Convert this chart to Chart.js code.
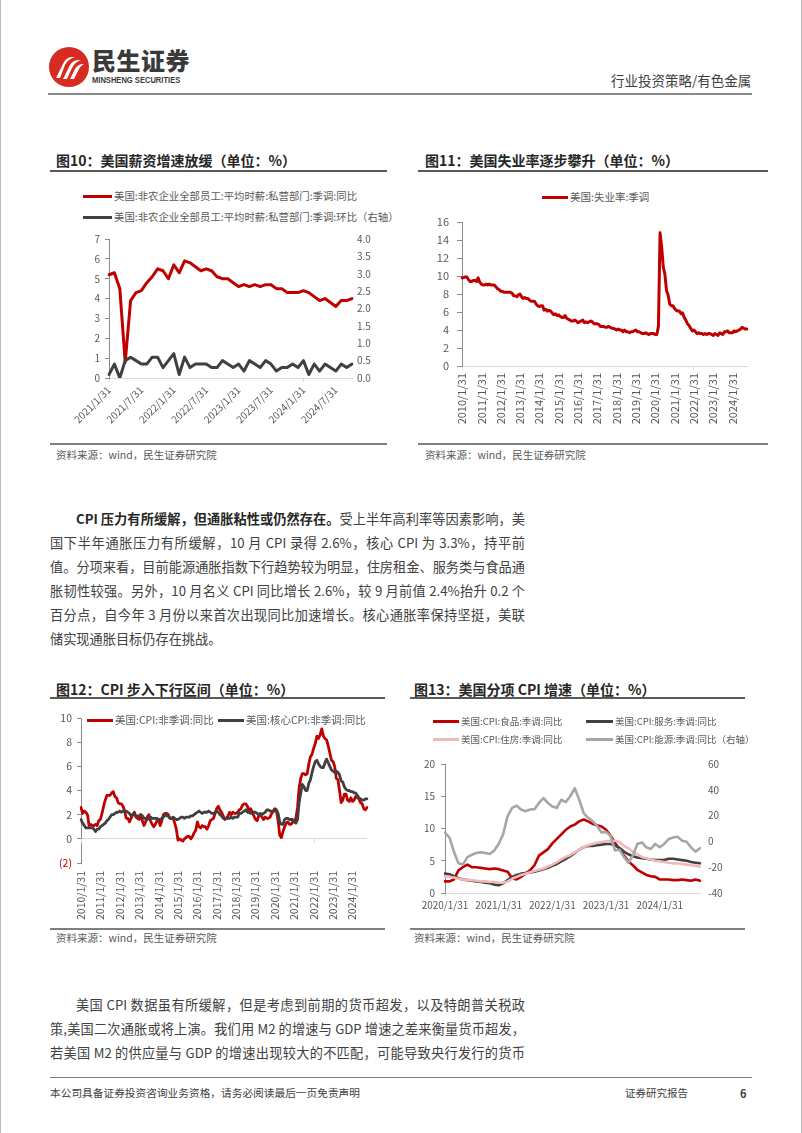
<!DOCTYPE html>
<html lang="zh-CN"><head><meta charset="utf-8">
<script src="https://cdn.jsdelivr.net/npm/chart.js@4.4.1/dist/chart.umd.min.js"></script>
<style>
*{box-sizing:border-box}
html,body{margin:0;padding:0;background:#fff}
body{width:802px;height:1133px;position:relative;overflow:hidden;font-family:"Noto Sans CJK SC","Noto Sans",sans-serif;color:#404040}
.a{position:absolute;white-space:nowrap}
.title{font-size:14px;font-weight:700;color:#262626;line-height:16px}
.rule{position:absolute;height:2px;background:#595959}
.src{font-size:10.5px;color:#595959;line-height:12px}
.lg{position:absolute;font-size:10px;color:#595959;line-height:12px;display:flex;align-items:center;white-space:nowrap}
.lg i{display:inline-block;height:3px;margin-right:2px}
.p{position:absolute;font-size:13.2px;line-height:24px;height:24px;color:#404040;white-space:nowrap;text-align:justify;text-align-last:justify}
canvas{position:absolute}
</style></head>
<body>
<div class="a" style="left:0;top:0;width:1px;height:1133px;background:#bbb"></div>
<div class="a" style="left:801px;top:0;width:1px;height:1133px;background:#bbb"></div>

<!-- header -->
<svg class="a" style="left:48px;top:46px" width="42" height="42" viewBox="0 0 42 42">
  <circle cx="21" cy="21" r="20" fill="#D52B21"/>
  <path d="M8 32 L16 16 Q19 11 25 11 L27 11 Q20 13 17 19 L12 32 Z" fill="#fff"/>
  <path d="M15 33 L22 19 Q25 14 31 14 L33 14 Q27 16 24 22 L19 33 Z" fill="#fff"/>
  <path d="M22 33 L27 23 Q30 18 35 18 L36 18 Q32 20 30 25 L26 33 Z" fill="#fff"/>
</svg>
<div class="a" style="left:92px;top:46px;font-size:24px;font-weight:900;color:#3a3a3a;line-height:28px;letter-spacing:0.5px">民生证券</div>
<div class="a" style="left:92px;top:75px;font-family:'Liberation Sans',sans-serif;font-size:8.6px;font-weight:700;color:#3a3a3a;line-height:10px;transform:scaleX(0.88);transform-origin:left top">MINSHENG SECURITIES</div>
<div class="a" style="left:611px;top:71px;font-size:13.5px;color:#404040;line-height:18px">行业投资策略/有色金属</div>
<div class="a" style="left:48px;top:93px;width:704px;height:2px;background:#8c8c8c"></div>

<!-- titles row 1 -->
<div class="a title" style="left:56px;top:152px">图10：美国薪资增速放缓（单位：%）</div>
<div class="rule" style="left:50px;top:170px;width:337px"></div>
<div class="a title" style="left:425px;top:152px">图11：美国失业率逐步攀升（单位：%）</div>
<div class="rule" style="left:418px;top:170px;width:350px"></div>

<!-- legends row 1 -->
<div class="lg" style="left:83px;top:190px;font-size:10.4px"><i style="width:29px;background:#C00000"></i><span>美国:非农企业全部员工:平均时薪:私营部门:季调:同比</span></div>
<div class="lg" style="left:83px;top:211px;font-size:10.4px"><i style="width:29px;background:#404040"></i><span>美国:非农企业全部员工:平均时薪:私营部门:季调:环比（右轴）</span></div>
<div class="lg" style="left:542px;top:191px;font-size:10.5px"><i style="width:26px;background:#C00000"></i><span>美国:失业率:季调</span></div>

<canvas id="c10" width="330" height="210" style="left:55px;top:225px"></canvas>
<canvas id="c11" width="355" height="230" style="left:415px;top:205px"></canvas>

<div class="a" style="left:50px;top:443px;width:337px;height:2px;background:#7f7f7f"></div>
<div class="a src" style="left:56px;top:449px">资料来源：wind，民生证券研究院</div>
<div class="a" style="left:418px;top:443px;width:350px;height:2px;background:#7f7f7f"></div>
<div class="a src" style="left:425px;top:449px">资料来源：wind，民生证券研究院</div>

<!-- paragraph 1 -->
<div class="p" style="left:76px;top:507px;width:449px"><b style="color:#262626">CPI 压力有所缓解，但通胀粘性或仍然存在。</b>受上半年高利率等因素影响，美</div>
<div class="p" style="left:50px;top:531px;width:475px">国下半年通胀压力有所缓解，10 月 CPI 录得 2.6%，核心 CPI 为 3.3%，持平前</div>
<div class="p" style="left:50px;top:555px;width:475px">值。分项来看，目前能源通胀指数下行趋势较为明显，住房租金、服务类与食品通</div>
<div class="p" style="left:50px;top:579px;width:475px">胀韧性较强。另外，10 月名义 CPI 同比增长 2.6%，较 9 月前值 2.4%抬升 0.2 个</div>
<div class="p" style="left:50px;top:603px;width:475px">百分点，自今年 3 月份以来首次出现同比加速增长。核心通胀率保持坚挺，美联</div>
<div class="p" style="left:50px;top:627px;text-align:left;text-align-last:left">储实现通胀目标仍存在挑战。</div>

<!-- titles row 2 -->
<div class="a title" style="left:56px;top:681px">图12：CPI 步入下行区间（单位：%）</div>
<div class="rule" style="left:50px;top:697px;width:335px"></div>
<div class="a title" style="left:414px;top:681px">图13：美国分项 CPI 增速（单位：%）</div>
<div class="rule" style="left:410px;top:697px;width:335px"></div>

<canvas id="c12" width="340" height="220" style="left:40px;top:705px"></canvas>
<canvas id="c13" width="345" height="170" style="left:405px;top:750px"></canvas>

<div class="lg" style="left:87px;top:714px;font-size:10.5px"><i style="width:26px;background:#C00000"></i><span>美国:CPI:非季调:同比</span></div>
<div class="lg" style="left:218px;top:714px;font-size:10.5px"><i style="width:26px;background:#404040"></i><span>美国:核心CPI:非季调:同比</span></div>

<div class="lg" style="left:433px;top:715px;font-size:9.5px"><i style="width:26px;background:#C00000"></i><span>美国:CPI:食品:季调:同比</span></div>
<div class="lg" style="left:586px;top:715px;font-size:9.5px"><i style="width:27px;background:#404040"></i><span>美国:CPI:服务:季调:同比</span></div>
<div class="lg" style="left:433px;top:733px;font-size:9.5px"><i style="width:26px;background:#F1B9B9"></i><span>美国:CPI:住房:季调:同比</span></div>
<div class="lg" style="left:586px;top:733px;font-size:9.5px"><i style="width:27px;background:#A6A6A6"></i><span>美国:CPI:能源:季调:同比（右轴）</span></div>

<div class="a" style="left:50px;top:928px;width:335px;height:2px;background:#7f7f7f"></div>
<div class="a src" style="left:56px;top:932px">资料来源：wind，民生证券研究院</div>
<div class="a" style="left:410px;top:928px;width:335px;height:2px;background:#7f7f7f"></div>
<div class="a src" style="left:414px;top:932px">资料来源：wind，民生证券研究院</div>

<!-- paragraph 2 -->
<div class="p" style="left:76px;top:993px;width:449px">美国 CPI 数据虽有所缓解，但是考虑到前期的货币超发，以及特朗普关税政</div>
<div class="p" style="left:50px;top:1017px;width:475px">策,美国二次通胀或将上演。我们用 M2 的增速与 GDP 增速之差来衡量货币超发，</div>
<div class="p" style="left:50px;top:1041px;width:475px">若美国 M2 的供应量与 GDP 的增速出现较大的不匹配，可能导致央行发行的货币</div>

<!-- footer -->
<div class="a" style="left:50px;top:1077px;width:702px;height:1px;background:#7f7f7f"></div>
<div class="a" style="left:50px;top:1086px;font-size:10.7px;color:#404040;line-height:14px">本公司具备证券投资咨询业务资格，请务必阅读最后一页免责声明</div>
<div class="a" style="left:625px;top:1086px;font-size:10.5px;color:#404040;line-height:14px">证券研究报告</div>
<div class="a" style="left:740px;top:1086px;font-size:11px;font-weight:700;color:#404040;line-height:14px">6</div>

<script>
// ---------- data ----------
function monthEnds(y0, m0, n){const out=[];for(let i=0;i<n;i++){const y=y0+Math.floor((m0-1+i)/12),m=(m0-1+i)%12+1;out.push(y+'/'+m+'/'+new Date(y,m,0).getDate());}return out;}

// Fig 10 : 2021/1 - 2024/10
const wageLabels = monthEnds(2021,1,46);
const wageYoY = [5.2,5.3,4.5,0.8,3.9,4.3,4.4,4.8,5.1,5.5,5.4,5.0,
  5.7,5.3,5.9,5.8,5.6,5.4,5.5,5.4,5.1,5.0,5.0,4.8,
  4.6,4.7,4.6,4.7,4.6,4.7,4.7,4.5,4.5,4.3,4.3,4.3,
  4.4,4.3,4.1,3.9,4.0,3.8,3.6,3.9,3.9,4.0];
const wageMoM = [0.1,0.4,0.0,0.5,0.6,0.5,0.4,0.4,0.6,0.6,0.3,0.5,
  0.7,0.1,0.6,0.3,0.4,0.4,0.4,0.3,0.3,0.5,0.4,0.3,
  0.4,0.2,0.5,0.4,0.3,0.5,0.4,0.2,0.3,0.3,0.4,0.3,
  0.5,0.1,0.4,0.2,0.4,0.3,0.2,0.4,0.3,0.4];

// Fig 11 / Fig 12 : 2010/1 - 2024/10
const longLabels = monthEnds(2010,1,178);
const unemployment = [
  9.8,9.8,9.9,9.9,9.6,9.4,9.4,9.5,9.5,9.4,9.8,9.3,
  9.1,9.0,9.0,9.1,9.0,9.1,9.0,9.0,9.0,8.8,8.6,8.5,
  8.3,8.3,8.2,8.2,8.2,8.2,8.2,8.1,7.8,7.8,7.7,7.9,
  8.0,7.7,7.5,7.6,7.5,7.5,7.3,7.2,7.2,7.2,6.9,6.7,
  6.6,6.7,6.7,6.2,6.3,6.1,6.2,6.1,5.9,5.7,5.8,5.6,
  5.7,5.5,5.4,5.4,5.6,5.3,5.2,5.1,5.0,5.0,5.1,5.0,
  4.8,4.9,5.0,5.1,4.8,4.9,4.8,4.9,5.0,4.9,4.7,4.7,
  4.7,4.6,4.4,4.4,4.4,4.3,4.3,4.4,4.3,4.2,4.2,4.1,
  4.0,4.1,4.0,4.0,3.8,4.0,3.8,3.8,3.7,3.8,3.8,3.9,
  4.0,3.8,3.8,3.7,3.6,3.6,3.7,3.6,3.5,3.6,3.6,3.6,
  3.5,3.5,4.4,14.8,13.2,11.0,10.2,8.4,7.9,6.9,6.7,6.7,
  6.4,6.2,6.1,6.1,5.8,5.9,5.4,5.1,4.7,4.5,4.2,3.9,
  4.0,3.8,3.6,3.7,3.6,3.6,3.5,3.6,3.5,3.6,3.6,3.5,
  3.4,3.6,3.5,3.4,3.7,3.6,3.5,3.8,3.8,3.9,3.7,3.7,
  3.7,3.9,3.8,3.9,4.0,4.1,4.3,4.2,4.1,4.1];
const cpiYoY = [
  2.6,2.1,2.3,2.2,2.0,1.1,1.2,1.1,1.1,1.2,1.1,1.5,
  1.6,2.1,2.7,3.2,3.6,3.6,3.6,3.8,3.9,3.5,3.4,3.0,
  2.9,2.9,2.7,2.3,1.7,1.7,1.4,1.7,2.0,2.2,1.8,1.7,
  1.6,2.0,1.5,1.1,1.4,1.8,2.0,1.5,1.2,1.0,1.2,1.5,
  1.6,1.1,1.5,2.0,2.1,2.1,2.0,1.7,1.7,1.7,1.3,0.8,
  -0.1,0.0,-0.1,-0.2,0.0,0.1,0.2,0.2,0.0,0.2,0.5,0.7,
  1.4,1.0,0.9,1.1,1.0,1.0,0.8,1.1,1.5,1.6,1.7,2.1,
  2.5,2.7,2.4,2.2,1.9,1.6,1.7,1.9,2.2,2.0,2.2,2.1,
  2.1,2.2,2.4,2.5,2.8,2.9,2.9,2.7,2.3,2.5,2.2,1.9,
  1.6,1.5,1.9,2.0,1.8,1.6,1.8,1.7,1.7,1.8,2.1,2.3,
  2.5,2.3,1.5,0.3,0.1,0.6,1.0,1.3,1.4,1.2,1.2,1.4,
  1.4,1.7,2.6,4.2,5.0,5.4,5.4,5.3,5.4,6.2,6.8,7.0,
  7.5,7.9,8.5,8.3,8.6,9.1,8.5,8.3,8.2,7.7,7.1,6.5,
  6.4,6.0,5.0,4.9,4.0,3.0,3.2,3.7,3.7,3.2,3.1,3.4,
  3.1,3.2,3.5,3.4,3.3,3.0,2.9,2.5,2.4,2.6];
const coreYoY = [
  1.6,1.3,1.1,0.9,0.9,0.9,0.9,0.9,0.8,0.6,0.8,0.8,
  1.0,1.1,1.2,1.3,1.5,1.6,1.8,2.0,2.0,2.1,2.2,2.2,
  2.3,2.2,2.3,2.3,2.3,2.2,2.1,1.9,2.0,2.0,1.9,1.9,
  1.9,2.0,1.9,1.7,1.7,1.6,1.7,1.8,1.7,1.7,1.7,1.7,
  1.6,1.6,1.7,1.8,2.0,1.9,1.9,1.7,1.7,1.8,1.7,1.6,
  1.6,1.7,1.8,1.8,1.7,1.8,1.8,1.8,1.9,1.9,2.0,2.1,
  2.2,2.3,2.2,2.1,2.2,2.2,2.2,2.3,2.2,2.1,2.1,2.2,
  2.3,2.2,2.0,1.9,1.7,1.7,1.7,1.7,1.7,1.8,1.7,1.8,
  1.8,1.8,2.1,2.1,2.2,2.3,2.4,2.2,2.2,2.1,2.2,2.2,
  2.2,2.1,2.0,2.1,2.0,2.1,2.2,2.4,2.4,2.3,2.3,2.3,
  2.3,2.4,2.1,1.4,1.2,1.2,1.6,1.7,1.7,1.6,1.6,1.6,
  1.4,1.3,1.6,3.0,3.8,4.5,4.3,4.0,4.0,4.6,4.9,5.5,
  6.0,6.4,6.5,6.2,6.0,5.9,5.9,6.3,6.6,6.3,6.0,5.7,
  5.6,5.5,5.6,5.5,5.3,4.8,4.7,4.3,4.1,4.0,4.0,3.9,
  3.9,3.8,3.8,3.6,3.4,3.3,3.2,3.2,3.3,3.3];

// Fig 13 : 2020/1 - 2024/10
const subLabels = monthEnds(2020,1,58);
const foodYoY = [1.8,1.8,2.1,3.5,4.0,4.4,4.0,4.0,3.9,3.8,3.7,3.8,
  3.7,3.5,3.3,2.3,2.1,2.5,3.0,3.5,4.3,5.8,6.3,6.8,
  7.7,8.4,9.1,9.8,10.3,10.6,11.1,11.4,11.1,10.7,10.5,10.3,
  9.8,8.9,7.8,6.8,5.8,4.9,4.3,3.6,3.2,2.8,2.6,2.5,
  2.1,2.1,2.1,2.0,2.0,2.1,2.0,1.9,2.1,1.9];
const servicesYoY = [3.0,2.9,2.6,2.3,2.1,2.0,1.9,1.8,1.7,1.6,1.5,1.3,
  1.2,1.5,2.0,2.5,2.8,3.0,3.1,3.2,3.3,3.5,3.7,3.9,
  4.2,4.5,4.9,5.3,5.7,6.2,6.7,7.1,7.3,7.3,7.4,7.5,
  7.6,7.6,7.4,7.0,6.4,6.0,5.7,5.5,5.4,5.3,5.2,5.1,
  5.1,5.1,5.3,5.3,5.2,5.1,5.0,4.8,4.7,4.6];
const housingYoY = [2.6,2.5,2.4,2.2,2.1,2.0,2.0,1.9,1.8,1.8,1.7,1.7,
  1.6,1.6,1.8,2.2,2.5,2.8,3.0,3.2,3.4,3.6,3.8,4.1,
  4.4,4.8,5.2,5.6,5.9,6.3,6.7,7.1,7.4,7.6,7.8,7.9,
  8.0,8.1,8.1,7.9,7.3,6.9,6.4,6.0,5.6,5.4,5.2,5.0,
  4.9,4.8,4.7,4.6,4.6,4.5,4.4,4.3,4.2,4.1];
const energyYoY = [6.9,3.0,-8.0,-17.0,-18.0,-12.2,-10.4,-9.0,-8.4,-9.0,-9.7,-7.0,
  -2.0,5.6,19.6,26.0,27.7,24.7,23.4,24.7,25.0,29.8,33.6,29.8,
  27.0,26.0,32.3,30.5,35.0,41.2,32.3,22.0,18.3,15.8,12.0,6.9,
  7.4,4.3,-7.0,-6.4,-12.2,-16.5,-11.0,-2.0,-0.8,-4.6,-5.9,-2.0,
  -4.6,-2.0,1.8,3.0,3.6,0.5,-0.3,-4.6,-7.9,-5.3];

// ---------- style ----------
const COL = {red:'#C00000', dark:'#404040', pink:'#F1B9B9', gray:'#A6A6A6', tick:'#595959', axis:'#8c8c8c', light:'#d9d9d9', none:'rgba(0,0,0,0)'};
Chart.defaults.font.family = '"Noto Sans CJK SC", "Noto Sans", sans-serif';
Chart.defaults.color = COL.tick;

function base(pad){
  return {responsive:false, animation:false, devicePixelRatio:1, events:[],
    layout:{padding:pad},
    plugins:{legend:{display:false}, tooltip:{enabled:false}},
    elements:{point:{radius:0}, line:{tension:0, borderJoinStyle:'round', borderCapStyle:'round'}}};
}
function xAxis(labels, every, opt){
  return {
    ticks:{autoSkip:false, maxRotation:opt.rot, minRotation:opt.rot, padding:opt.pad, font:{size:opt.size},
      callback:(v,i)=> i%every===0 ? labels[i] : null},
    grid:{drawOnChartArea:false, tickLength:4, color: ctx => (opt.tickCol && ctx.index%every===0) ? opt.tickCol : COL.none},
    border:{display:opt.border, color:COL.light},
    afterFit:s=>{s.height=opt.h;}
  };
}
function yAxis(min,max,step,w,opt){
  return {min:min, max:max,
    ticks:{stepSize:step, padding:opt.pad, font:{size:opt.size}, color:opt.color||COL.tick, callback:opt.cb},
    grid:{drawOnChartArea:!!opt.zero, tickLength:opt.tl||4, color: opt.zero ? (ctx=> ctx.tick && ctx.tick.value===0 ? COL.light : COL.none) : COL.axis, tickColor:COL.axis},
    border:{display:true, color:COL.axis},
    afterFit:s=>{s.width=w;}};
}
function yRight(min,max,step,w,pad,size,cb){
  return {position:'right', min:min, max:max,
    ticks:{stepSize:step, padding:pad, font:{size:size}, callback:cb},
    grid:{display:false, drawTicks:false}, border:{display:false},
    afterFit:s=>{s.width=w;}};
}
function line(data, color, width, axis, order){
  return {data:data, borderColor:color, backgroundColor:color, borderWidth:width, yAxisID:axis, order:order, fill:false};
}

// small tick marks on the zero line (Fig 12), placed by the scales
const zeroTicks = {id:'zeroTicks', beforeDatasetsDraw(chart){
  const x = chart.scales.x, y = chart.scales.y, ctx = chart.ctx;
  const y0 = y.getPixelForValue(0);
  ctx.save(); ctx.strokeStyle = COL.light; ctx.lineWidth = 1;
  for (let i = 0; i < x.ticks.length; i += 12){
    const px = Math.round(x.getPixelForTick(i)) + 0.5;
    ctx.beginPath(); ctx.moveTo(px, y0); ctx.lineTo(px, y0 + 4); ctx.stroke();
  }
  ctx.restore();
}};

// Fig 10
new Chart(document.getElementById('c10'), {type:'line',
  data:{labels:wageLabels, datasets:[
    line(wageYoY, COL.red, 3, 'y', 2),
    line(wageMoM, COL.dark, 3, 'y1', 1)]},
  options:Object.assign(base({top:14,left:0,right:0,bottom:0}), {scales:{
    x:xAxis(wageLabels, 6, {rot:45, pad:2, size:10, h:57, border:true, tickCol:COL.light}),
    y:yAxis(0,7,1,54,{pad:5,size:10}),
    y1:yRight(0,4,0.5,33,5,10, v=>v.toFixed(1))
  }})});

// Fig 11
new Chart(document.getElementById('c11'), {type:'line',
  data:{labels:longLabels, datasets:[line(unemployment, COL.red, 3, 'y', 1)]},
  options:Object.assign(base({top:17,left:0,right:23,bottom:0}), {scales:{
    x:xAxis(longLabels, 12, {rot:90, pad:3, size:11, h:69, border:true, tickCol:COL.light}),
    y:yAxis(0,16,2,47,{pad:8,size:11,tl:5})
  }})});

// Fig 12
new Chart(document.getElementById('c12'), {type:'line',
  data:{labels:longLabels, datasets:[
    line(cpiYoY, COL.red, 2.8, 'y', 2),
    line(coreYoY, COL.dark, 2.8, 'y', 1)]},
  options:Object.assign(base({top:13,left:0,right:13,bottom:0}), {scales:{
    x:xAxis(longLabels, 12, {rot:90, pad:4, size:10.5, h:62, border:false, tickCol:null}),
    y:yAxis(-2,10,2,41,{pad:5,size:10.5,zero:true,
      cb:v=> v<0 ? '('+(-v)+')' : String(v),
      color:ctx=> ctx.tick && ctx.tick.value<0 ? COL.red : COL.tick})
  }}),
  plugins:[zeroTicks]});

// Fig 13
new Chart(document.getElementById('c13'), {type:'line',
  data:{labels:subLabels, datasets:[
    line(foodYoY, COL.red, 2.6, 'y', 4),
    line(servicesYoY, COL.dark, 2.6, 'y', 3),
    line(housingYoY, COL.pink, 2.6, 'y', 2),
    line(energyYoY, COL.gray, 2.6, 'y1', 1)]},
  options:Object.assign(base({top:12,left:0,right:0,bottom:0}), {scales:{
    x:xAxis(subLabels, 12, {rot:0, pad:2, size:10, h:27, border:true, tickCol:COL.light}),
    y:yAxis(0,20,5,40,{pad:6,size:10}),
    y1:yRight(-40,60,20,50,8,10, v=>String(v))
  }})});
</script>
</body></html>
